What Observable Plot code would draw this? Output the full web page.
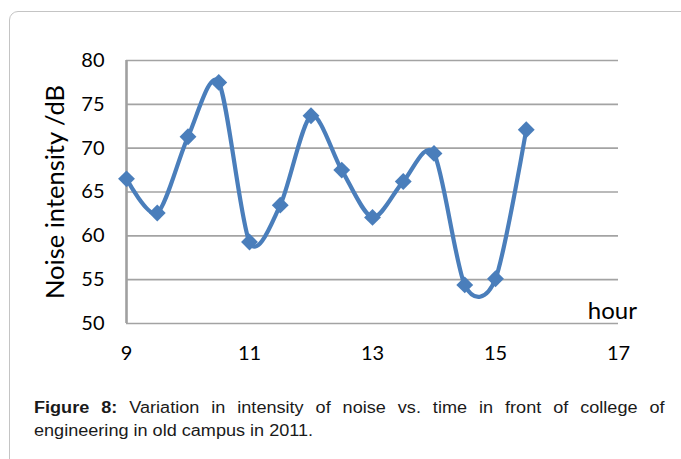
<!DOCTYPE html>
<html><head><meta charset="utf-8">
<script src="https://cdn.jsdelivr.net/npm/d3@7"></script>
<script src="https://cdn.jsdelivr.net/npm/@observablehq/plot@0.6"></script>
<style>
body{margin:0;background:#fff;width:681px;height:459px;overflow:hidden;position:relative;font-family:Lato,sans-serif}
#frame{position:absolute;left:9px;top:11px;width:720px;height:480px;border:1px solid #c4c4c4;border-radius:9px;}
#chart{position:absolute;left:0;top:0}
#caption{position:absolute;left:34px;top:396px;width:558px;font-family:"Liberation Sans",Arial,sans-serif;font-size:16px;line-height:23px;color:#1a1a1a;transform:scaleX(1.13);transform-origin:0 0}
</style></head><body>
<div id="frame"></div>
<div id="chart"></div>
<div id="caption"><div style="text-align:justify;text-align-last:justify;white-space:nowrap"><b>Figure 8:</b> Variation in intensity of noise vs. time in front of college of</div><div>engineering in old campus in 2011.</div></div>
<script>
const hours = [9, 9.5, 10, 10.5, 11, 11.5, 12, 12.5, 13, 13.5, 14, 14.5, 15, 15.5];
const noise = [66.5, 62.6, 71.3, 77.5, 59.3, 63.5, 73.7, 67.5, 62.1, 66.2, 69.4, 54.4, 55.1, 72.1];
const xTicks = [9, 11, 13, 15, 17];
const yTicks = [50, 55, 60, 65, 70, 75, 80];
const xTitle = "hour";
const yTitle = "Noise intensity /dB";
const xTitlePos = [{x: 16.9, y: 50}];

const data = hours.map((h, i) => ({hour: h, noise: noise[i]}));
const blue = "#4a7ebb";

const chart = Plot.plot({
  width: 681,
  height: 380,
  marginLeft: 126,
  marginRight: 63,
  marginTop: 60,
  marginBottom: 57,
  style: {fontFamily: "Lato, sans-serif", background: "transparent"},
  x: {domain: [9, 17]},
  y: {domain: [50, 80]},
  marks: [
    Plot.ruleY(yTicks, {stroke: "#a3a3a3", strokeWidth: 1.6}),
    Plot.ruleX([9], {stroke: "#a0a0a0", strokeWidth: 2.6}),
    Plot.axisY(yTicks, {tickSize: 0, tickPadding: 22, fontSize: 20, fill: "#000", label: null}),
    Plot.axisX(xTicks, {tickSize: 0, tickPadding: 22, fontSize: 20, fill: "#000", label: null}),
    Plot.text([yTitle], {frameAnchor: "left", textAnchor: "middle", rotate: -90, dx: -71, fontSize: 25.5, fill: "#000"}),
    Plot.text(xTitlePos, {x: "x", y: "y", text: () => xTitle, lineAnchor: "bottom", dy: -5, fontSize: 24, fill: "#000"}),
    Plot.line(data, {x: "hour", y: "noise", curve: "cardinal", tension: 0.15, stroke: blue, strokeWidth: 4.2}),
    Plot.dot(data, {x: "hour", y: "noise", symbol: "diamond2", r: 7.6, fill: blue, stroke: null})
  ]
});
document.getElementById("chart").appendChild(chart);
</script>
</body></html>
